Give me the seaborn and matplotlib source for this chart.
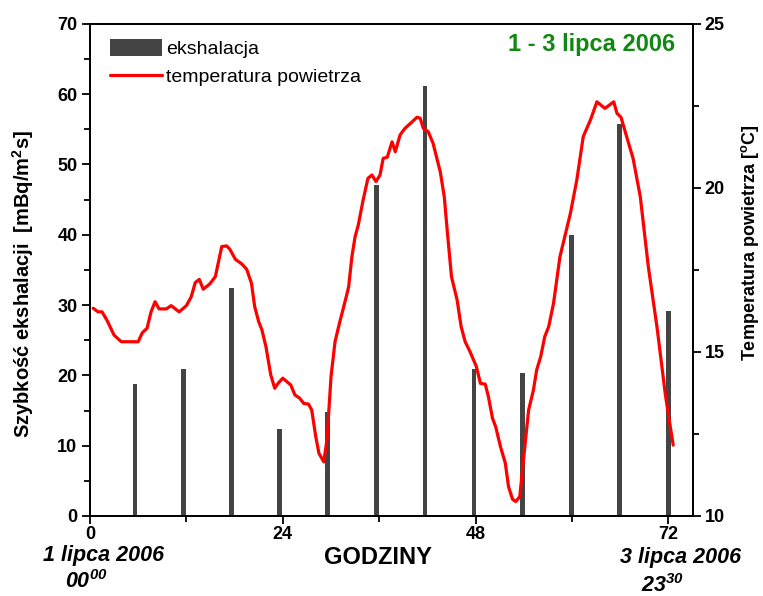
import matplotlib
matplotlib.use("Agg")
import matplotlib.pyplot as plt
import seaborn as sns
import numpy as np
import pandas as pd
from matplotlib.patches import Patch
from matplotlib.lines import Line2D
from matplotlib.ticker import MultipleLocator

# ---- data ----
bar_hours = [5.6, 11.6, 17.6, 23.6, 29.6, 35.7, 41.7, 47.8, 53.8, 59.9, 65.9, 72.0]
bar_values = [18.7, 20.9, 32.4, 12.4, 14.8, 47.0, 61.1, 20.9, 20.3, 40.0, 55.8, 29.2]

temp_hours = [0.4, 1.0, 1.5, 2.1, 3.0, 3.9, 6.0, 6.5, 7.1, 7.6, 8.1, 8.6, 9.5, 10.1,
              11.1, 12.0, 12.6, 13.1, 13.6, 14.1, 14.9, 15.6, 16.4, 17.0, 17.4, 18.1,
              18.9, 19.5, 20.1, 20.5, 21.0, 21.4, 21.9, 22.5, 23.0, 23.4, 24.0, 25.0,
              25.5, 26.1, 26.6, 27.2, 27.6, 28.1, 28.5, 29.1, 29.5, 30.0, 30.5, 31.1,
              31.9, 32.2, 32.6, 33.0, 33.4, 34.0, 34.6, 35.1, 35.6, 36.1, 36.5, 37.0,
              37.6, 38.0, 38.6, 39.2, 40.1, 40.7, 41.1, 41.5, 42.1, 42.7, 43.6, 44.1,
              44.5, 45.0, 45.7, 46.2, 46.7, 47.3, 48.1, 48.6, 49.2, 49.6, 50.1, 50.5,
              51.1, 51.7, 52.1, 52.6, 53.0, 53.5, 54.0, 54.6, 55.2, 55.6, 56.1, 56.6,
              57.1, 57.7, 58.5, 59.1, 59.8, 60.6, 61.4, 62.3, 63.1, 64.1, 65.2, 65.6,
              66.1, 66.8, 67.6, 68.5, 69.5, 70.6, 71.6, 72.1, 72.6]
temp_values = [16.33, 16.22, 16.22, 15.97, 15.51, 15.31, 15.31, 15.58, 15.72, 16.22, 16.53,
               16.31, 16.31, 16.41, 16.22, 16.41, 16.68, 17.11, 17.21, 16.91, 17.07, 17.29,
               18.21, 18.23, 18.13, 17.82, 17.68, 17.52, 17.09, 16.38, 15.92, 15.67, 15.16,
               14.30, 13.89, 14.04, 14.20, 13.99, 13.69, 13.59, 13.43, 13.41, 13.23, 12.42,
               11.91, 11.65, 12.32, 14.24, 15.31, 15.92, 16.68, 16.99, 17.90, 18.51, 18.87,
               19.63, 20.29, 20.39, 20.19, 20.39, 20.90, 20.93, 21.40, 21.10, 21.61, 21.81,
               22.01, 22.15, 22.12, 21.81, 21.71, 21.36, 20.49, 19.73, 18.61, 17.29, 16.58,
               15.77, 15.31, 15.01, 14.55, 14.04, 14.02, 13.63, 12.98, 12.72, 12.11, 11.61,
               10.89, 10.51, 10.44, 10.59, 11.81, 13.23, 13.84, 14.45, 14.85, 15.46, 15.77,
               16.48, 17.90, 18.51, 19.22, 20.24, 21.56, 22.07, 22.62, 22.42, 22.62, 22.27,
               22.15, 21.56, 20.90, 19.73, 17.60, 15.72, 13.74, 12.93, 12.16]

x_ticks = [0, 24, 48, 72]
left_ticks = [0, 10, 20, 30, 40, 50, 60, 70]
right_ticks = [10, 15, 20, 25]

sns.set_theme(style="white")
plt.rcParams['font.family'] = ['Liberation Sans', 'DejaVu Sans']
plt.rcParams['mathtext.fontset'] = 'custom'
plt.rcParams['mathtext.rm'] = 'Liberation Sans'
plt.rcParams['mathtext.bf'] = 'Liberation Sans:bold'
plt.rcParams['mathtext.it'] = 'Liberation Sans:italic'
plt.rcParams['mathtext.bfit'] = 'Liberation Sans:bold:italic'
for key in ('text.color', 'axes.labelcolor', 'xtick.color', 'ytick.color'):
    plt.rcParams[key] = 'black'

W, H = 763, 596
fig = plt.figure(figsize=(W / 100, H / 100), dpi=100)
ax = fig.add_axes([90 / W, 1 - 516 / H, (693.3 - 90) / W, (516 - 23.7) / H])
ax2 = ax.twinx()

bar_df = pd.DataFrame({"h": bar_hours, "v": bar_values})
sns.barplot(data=bar_df, x="h", y="v", native_scale=True, width=0.1,
            color="#444444", saturation=1, ax=ax, edgecolor="none")

temp_df = pd.DataFrame({"h": temp_hours, "t": temp_values})
sns.lineplot(data=temp_df, x="h", y="t", color="#ff0000", linewidth=2.3, ax=ax2,
             sort=False)

ax.set_xlim(0, 75.1)
ax.set_ylim(0, 70)
ax2.set_ylim(10, 25)

tick_fs = 13
ax.set_xticks(x_ticks)
ax.set_xticklabels([str(t) for t in x_ticks], fontsize=tick_fs, fontweight="bold")
ax.xaxis.set_minor_locator(MultipleLocator(12))
ax.set_yticks(left_ticks)
ax.set_yticklabels([str(t) for t in left_ticks], fontsize=tick_fs, fontweight="bold")
ax.yaxis.set_minor_locator(MultipleLocator(5))
ax2.set_yticks(right_ticks)
ax2.set_yticklabels([str(t) for t in right_ticks], fontsize=tick_fs, fontweight="bold")
ax2.yaxis.set_minor_locator(MultipleLocator(2.5))

for a in (ax, ax2):
    for s in a.spines.values():
        s.set_color("black")
        s.set_linewidth(1.3)
ax.tick_params(axis="both", which="major", direction="out", length=6, width=1.3,
               color="black", labelcolor="black", pad=3,
               bottom=True, left=True, top=False, right=False)
ax.tick_params(axis="x", which="major", pad=1)
ax.tick_params(axis="both", which="minor", direction="out", length=4, width=1.3,
               color="black", bottom=True, left=True, top=False, right=False)
ax2.tick_params(axis="y", which="major", direction="out", length=6, width=1.3,
                color="black", labelcolor="black", pad=2, right=True)
ax2.tick_params(axis="y", which="minor", direction="out", length=4, width=1.3,
                color="black", right=True)

ax.set_xlabel("")
ax.set_ylabel("")
ax2.set_xlabel("")
ax2.set_ylabel("")

fig.text(23 / W, 1 - 284 / H, r"Szybkość ekshalacji  [mBq/m$^\mathbf{2}$s]",
         fontsize=14.5, fontweight="bold", rotation=90, ha="center", va="center")
fig.text(750 / W, 1 - 243 / H, r"Temperatura powietrza [$^\mathbf{o}$C]",
         fontsize=13, fontweight="bold", rotation=90, ha="center", va="center")

fig.text(378 / W, 1 - 558 / H, "GODZINY", fontsize=17, fontweight="bold",
         ha="center", va="center")
fig.text(104 / W, 1 - 555 / H, "1 lipca 2006", fontsize=15.5, fontweight="bold",
         style="italic", ha="center", va="center")
fig.text(86 / W, 1 - 582 / H, r"$\mathbfit{00}^{\mathbfit{00}}$", fontsize=15.5,
         ha="center", va="center")
fig.text(681 / W, 1 - 558 / H, "3 lipca 2006", fontsize=15.5, fontweight="bold",
         style="italic", ha="center", va="center")
fig.text(663 / W, 1 - 586 / H, r"$\mathbfit{23}^{\mathbfit{30}}$", fontsize=15.5,
         ha="center", va="center")

fig.text(675 / W, 1 - 45 / H, "1 - 3 lipca 2006", fontsize=17,
         fontweight="bold", color="#118811", ha="right", va="center")

handles = [Patch(facecolor="#444444", edgecolor="none"),
           Line2D([0], [0], color="#ff0000", lw=2.3)]
ax2.legend(handles, ["ekshalacja", "temperatura powietrza"], loc="upper left",
           bbox_to_anchor=(0.01, 0.997), frameon=False, fontsize=14,
           handlelength=2.7, handleheight=1.0, handletextpad=0.2, labelspacing=0.45,
           borderpad=0.2)

fig.savefig("out.png", dpi=100)
